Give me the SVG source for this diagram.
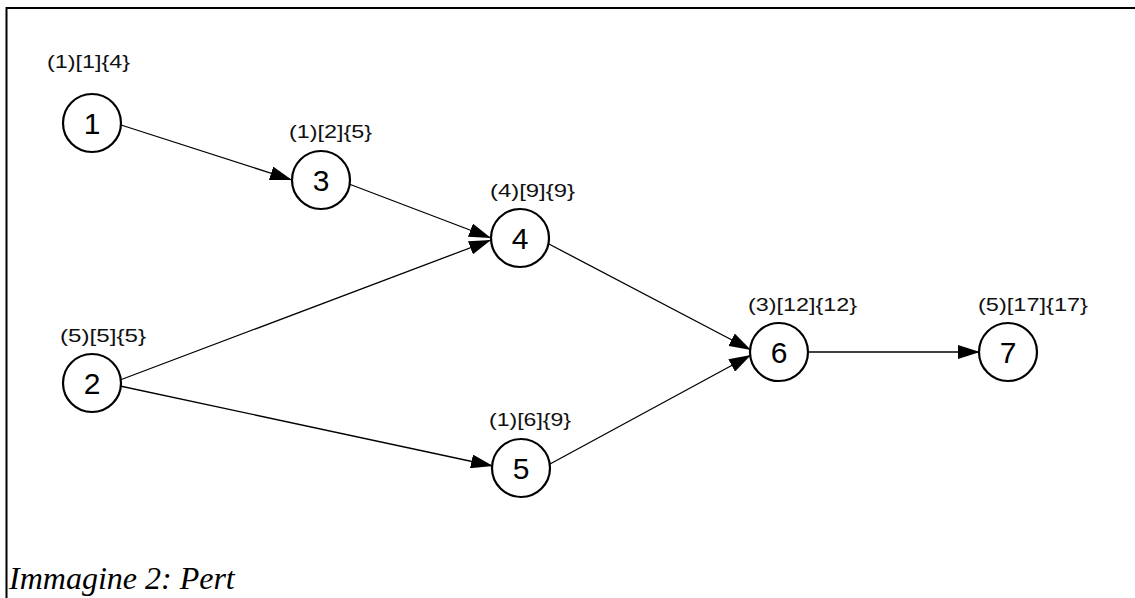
<svg xmlns="http://www.w3.org/2000/svg" width="1135" height="598" viewBox="0 0 1135 598">
<style>
.node circle{fill:#fff;stroke:#000;stroke-width:2.2}
.num{font-family:"Liberation Sans",Arial,sans-serif;font-size:30px;text-anchor:middle;fill:#000}
.lbl{font-family:"Liberation Sans",Arial,sans-serif;font-size:19px;fill:#111}
.edge{stroke:#000;stroke-width:1.3;fill:none;marker-end:url(#arr)}
.cap{font-family:"Liberation Serif","Times New Roman",serif;font-style:italic;font-size:32px;fill:#000}
</style>
<defs>
<marker id="arr" viewBox="0 0 22 14" refX="22" refY="7" markerWidth="22" markerHeight="14" markerUnits="userSpaceOnUse" orient="auto">
<path d="M0,0 L22,7 L0,14 Z" fill="#000"/>
</marker>
</defs>
<rect width="1135" height="598" fill="#fff"/>
<path d="M6.5,598 V8 H1135" fill="none" stroke="#000" stroke-width="2"/>
<g id="connectors">
<line class="edge" x1="121" y1="125" x2="292" y2="180"/>
<line class="edge" x1="349" y1="184" x2="491" y2="238"/>
<line class="edge" x1="120" y1="380" x2="491" y2="240"/>
<line class="edge" x1="120" y1="386" x2="493" y2="466"/>
<line class="edge" x1="547" y1="243" x2="751" y2="350"/>
<line class="edge" x1="550" y1="464" x2="751" y2="355"/>
<line class="edge" x1="809" y1="352" x2="980" y2="352"/>
</g>
<g id="node1" class="node"><circle cx="92" cy="123" r="29"/><text class="num" x="92" y="134">1</text><text class="lbl" x="47" y="68" textLength="83" lengthAdjust="spacingAndGlyphs">(1)[1]{4}</text></g>
<g id="node3" class="node"><circle cx="321" cy="180" r="29"/><text class="num" x="321" y="191">3</text><text class="lbl" x="289" y="138" textLength="83" lengthAdjust="spacingAndGlyphs">(1)[2]{5}</text></g>
<g id="node4" class="node"><circle cx="520" cy="238" r="29"/><text class="num" x="520" y="249">4</text><text class="lbl" x="490" y="197" textLength="85" lengthAdjust="spacingAndGlyphs">(4)[9]{9}</text></g>
<g id="node2" class="node"><circle cx="92" cy="383" r="29"/><text class="num" x="92" y="394">2</text><text class="lbl" x="60" y="342" textLength="86" lengthAdjust="spacingAndGlyphs">(5)[5]{5}</text></g>
<g id="node5" class="node"><circle cx="521" cy="468" r="29"/><text class="num" x="521" y="479">5</text><text class="lbl" x="489" y="426" textLength="82" lengthAdjust="spacingAndGlyphs">(1)[6]{9}</text></g>
<g id="node6" class="node"><circle cx="779" cy="352" r="29"/><text class="num" x="779" y="363">6</text><text class="lbl" x="748" y="311" textLength="109" lengthAdjust="spacingAndGlyphs">(3)[12]{12}</text></g>
<g id="node7" class="node"><circle cx="1008" cy="352" r="29"/><text class="num" x="1008" y="363">7</text><text class="lbl" x="978" y="311" textLength="110" lengthAdjust="spacingAndGlyphs">(5)[17]{17}</text></g>
<text class="cap" x="9" y="589">Immagine 2: Pert</text>
</svg>
